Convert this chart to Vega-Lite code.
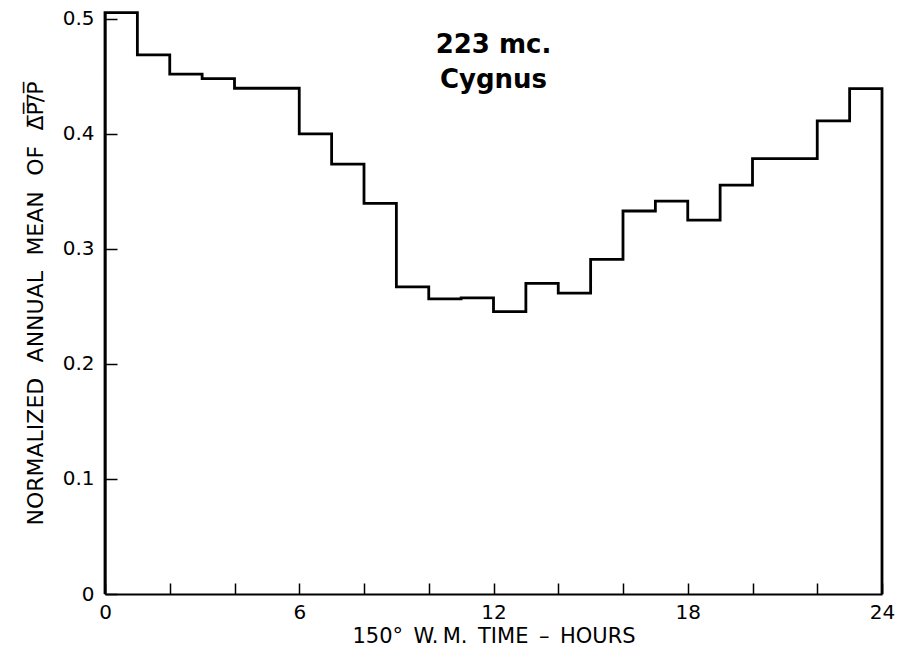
{
  "$schema": "https://vega.github.io/schema/vega-lite/v6.json",
  "autosize": "none",
  "width": 777,
  "height": 582,
  "padding": {"left": 105, "top": 12, "right": 19, "bottom": 63},
  "background": "white",
  "config": {
    "view": {"stroke": null},
    "font": "DejaVu Sans",
    "axis": {"grid": false, "domainColor": "black", "tickColor": "black", "labelColor": "black", "titleColor": "black", "labelFont": "DejaVu Sans", "titleFont": "DejaVu Sans", "titleFontWeight": "normal"}
  },
  "datasets": {
    "steps": [
      {"i": 0, "hour": 0, "v": 0},
      {"i": 1, "hour": 0, "v": 0.5055},
      {"i": 2, "hour": 1, "v": 0.4687},
      {"i": 3, "hour": 2, "v": 0.452},
      {"i": 4, "hour": 3, "v": 0.448},
      {"i": 5, "hour": 4, "v": 0.4397},
      {"i": 6, "hour": 5, "v": 0.4397},
      {"i": 7, "hour": 6, "v": 0.4},
      {"i": 8, "hour": 7, "v": 0.3737},
      {"i": 9, "hour": 8, "v": 0.3397},
      {"i": 10, "hour": 9, "v": 0.267},
      {"i": 11, "hour": 10, "v": 0.2565},
      {"i": 12, "hour": 11, "v": 0.2575},
      {"i": 13, "hour": 12, "v": 0.2455},
      {"i": 14, "hour": 13, "v": 0.27},
      {"i": 15, "hour": 14, "v": 0.2615},
      {"i": 16, "hour": 15, "v": 0.291},
      {"i": 17, "hour": 16, "v": 0.333},
      {"i": 18, "hour": 17, "v": 0.3415},
      {"i": 19, "hour": 18, "v": 0.325},
      {"i": 20, "hour": 19, "v": 0.3554},
      {"i": 21, "hour": 20, "v": 0.3786},
      {"i": 22, "hour": 21, "v": 0.3786},
      {"i": 23, "hour": 22, "v": 0.4113},
      {"i": 24, "hour": 23, "v": 0.4394},
      {"i": 25, "hour": 24, "v": 0.4394},
      {"i": 26, "hour": 24, "v": 0}
    ],
    "labels": [
      {"hour": 12, "v": 0.477, "t": "223 mc."},
      {"hour": 12, "v": 0.447, "t": "Cygnus"}
    ]
  },
  "layer": [
    {
      "data": {"name": "steps"},
      "mark": {"type": "line", "interpolate": "step-after", "color": "black", "strokeWidth": 2.8},
      "encoding": {
        "x": {
          "field": "hour", "type": "quantitative",
          "scale": {"domain": [0, 24], "nice": false, "zero": false},
          "axis": {
            "values": [0,1,2,3,4,5,6,7,8,9,10,11,12,13,14,15,16,17,18,19,20,21,22,23,24],
            "labelExpr": "datum.value % 6 === 0 ? datum.label : ''",
            "tickSize": -11, "tickWidth": 1.5, "domainWidth": 2,
            "labelFontSize": 20, "labelPadding": 19, "labelFlush": false,
            "title": "150°\u2002W.\u2009M.\u2002TIME\u2002–\u2002HOURS", "titleFontSize": 21, "titlePadding": 3
          }
        },
        "y": {
          "field": "v", "type": "quantitative",
          "scale": {"domain": [0, 0.506], "nice": false},
          "axis": {
            "values": [0, 0.1, 0.2, 0.3, 0.4, 0.5],
            "labelExpr": "datum.value === 0 ? '0' : format(datum.value, '.1f')",
            "tickSize": -12, "tickWidth": 1.5, "domainWidth": 2,
            "labelFontSize": 20, "labelPadding": 23, "labelFlush": false,
            "title": "NORMALIZED\u2002\u2009ANNUAL\u2002\u2009MEAN\u2002\u2009OF\u2002\u2009Δ̅P̅/̅P̅", "titleFontSize": 22, "titlePadding": 15
          }
        },
        "order": {"field": "i", "type": "quantitative"}
      }
    },
    {
      "data": {"name": "labels"},
      "mark": {"type": "text", "fontSize": 26, "fontWeight": "bold", "color": "black", "font": "DejaVu Sans"},
      "encoding": {
        "x": {"field": "hour", "type": "quantitative"},
        "y": {"field": "v", "type": "quantitative"},
        "text": {"field": "t"}
      }
    }
  ]
}
